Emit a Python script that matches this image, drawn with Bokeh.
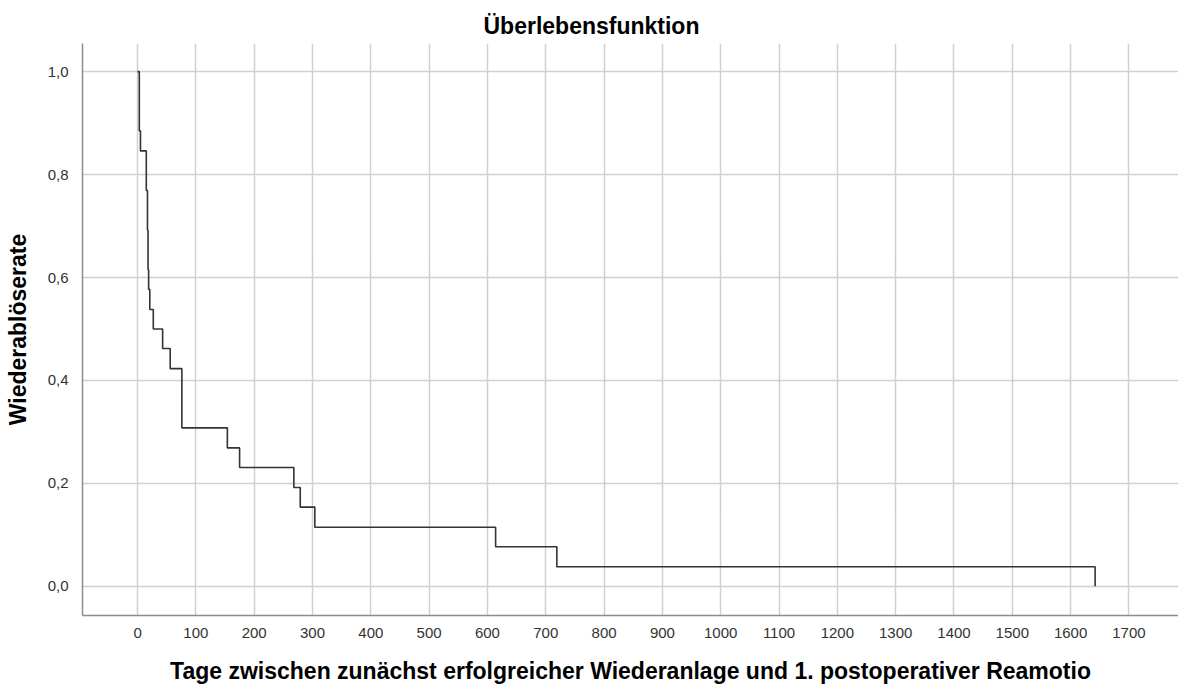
from bokeh.plotting import figure
from bokeh.models import Range1d, FixedTicker, CustomJSTickFormatter, Title
from bokeh.embed import file_html
from bokeh.resources import INLINE

# Kaplan-Meier step data (days, survival after event)
start_day = 0
start_surv = 1.0
event_days = [3, 5, 15, 17, 18, 19, 21, 27, 43, 56, 76, 154, 175, 268, 279, 304, 614, 719, 1642]
survival = [0.885, 0.846, 0.769, 0.692, 0.615, 0.577, 0.538, 0.500, 0.462, 0.423,
            0.308, 0.269, 0.231, 0.192, 0.154, 0.115, 0.077, 0.038, 0.0]

x_ticks = list(range(0, 1800, 100))
y_ticks = [0.0, 0.2, 0.4, 0.6, 0.8, 1.0]

title_text = "Überlebensfunktion"
x_label = "Tage zwischen zunächst erfolgreicher Wiederanlage und 1. postoperativer Reamotio"
y_label = "Wiederablöserate"

FONT = "Liberation Sans"

p = figure(width=1178, height=686, output_backend="svg", toolbar_location=None,
           x_range=Range1d(-94.4, 1785), y_range=Range1d(-0.0566, 1.0547),
           min_border_left=82, min_border_right=0, min_border_top=43, min_border_bottom=69)

p.title = Title(text=title_text, align="left", offset=401, text_font=FONT,
                text_font_size="23px", text_font_style="bold", text_color="#000000",
                standoff=10)

p.outline_line_color = None
p.background_fill_color = "white"

xs = [start_day] + event_days
ys = [start_surv] + survival
p.step(xs, ys, mode="after", line_color="#333333", line_width=1.6)

for ax in (p.xaxis[0], p.yaxis[0]):
    ax.major_tick_line_color = None
    ax.minor_tick_line_color = None
    ax.axis_line_color = "#8c8c8c"
    ax.axis_line_width = 1.5
    ax.major_label_text_font = FONT
    ax.major_label_text_font_size = "15px"
    ax.major_label_text_color = "#333333"
    ax.axis_label_text_font = FONT
    ax.axis_label_text_font_size = "23px"
    ax.axis_label_text_font_style = "bold"
    ax.axis_label_text_color = "#000000"

p.xaxis.ticker = FixedTicker(ticks=x_ticks)
p.yaxis.ticker = FixedTicker(ticks=y_ticks)
p.yaxis.formatter = CustomJSTickFormatter(code="return tick.toFixed(1).replace('.', ',');")
p.xaxis.axis_label = x_label
p.yaxis.axis_label = y_label
p.xaxis.major_label_standoff = 6
p.yaxis.major_label_standoff = 8
p.xaxis.axis_label_standoff = 17
p.yaxis.axis_label_standoff = 14

p.xgrid.grid_line_color = "#d0d0d0"
p.ygrid.grid_line_color = "#d0d0d0"
p.xgrid.grid_line_width = 1.5
p.ygrid.grid_line_width = 1.5

open("out.html", "w").write(file_html(p, INLINE))
